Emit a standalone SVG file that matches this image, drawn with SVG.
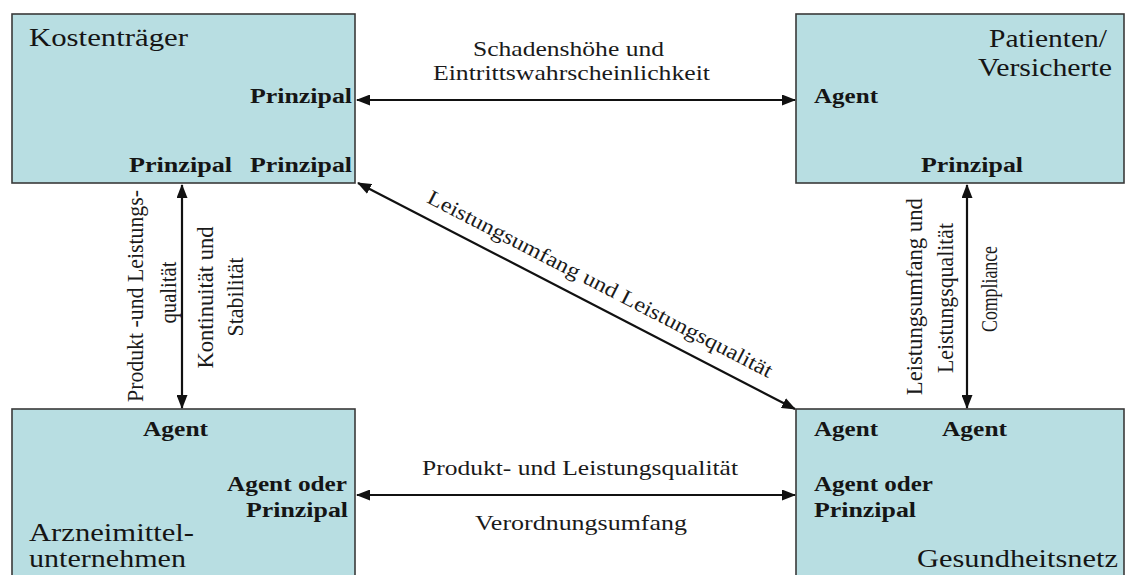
<svg xmlns="http://www.w3.org/2000/svg" width="1128" height="575" viewBox="0 0 1128 575">
  <style>
    .box { fill: #b8dee2; stroke: #3a3a3a; stroke-width: 1.6; }
    .title { font-family: "Liberation Serif", "Times New Roman", serif; font-size: 24.5px; fill: #151515; }
    .role { font-family: "Liberation Serif", "Times New Roman", serif; font-size: 20px; font-weight: bold; fill: #151515; }
    .lbl { font-family: "Liberation Serif", "Times New Roman", serif; font-size: 21px; fill: #1a1a1a; }
    .vlbl { font-family: "Liberation Serif", "Times New Roman", serif; font-size: 19.5px; fill: #1a1a1a; }
    .conn { stroke: #111; stroke-width: 2.2; fill: none; marker-start: url(#arrow); marker-end: url(#arrow); }
  </style>
  <defs>
    <marker id="arrow" markerUnits="userSpaceOnUse" markerWidth="14" markerHeight="11" refX="13" refY="5.5" orient="auto-start-reverse">
      <path d="M0,0 L14,5.5 L0,11 Z" fill="#111"/>
    </marker>
  </defs>
  <rect width="1128" height="575" fill="#ffffff"/>

  <!-- Kostenträger -->
  <g id="kostentraeger">
    <rect class="box" x="12" y="14" width="343" height="169"/>
    <text class="title" x="29" y="46" textLength="159" lengthAdjust="spacingAndGlyphs">Kostenträger</text>
    <text class="role" x="250" y="103" textLength="102" lengthAdjust="spacingAndGlyphs">Prinzipal</text>
    <text class="role" x="129" y="172" textLength="103" lengthAdjust="spacingAndGlyphs">Prinzipal</text>
    <text class="role" x="250" y="172" textLength="102" lengthAdjust="spacingAndGlyphs">Prinzipal</text>
  </g>

  <!-- Patienten/Versicherte -->
  <g id="patienten">
    <rect class="box" x="796" y="14" width="328" height="169"/>
    <text class="title" x="989" y="47" textLength="118" lengthAdjust="spacingAndGlyphs">Patienten/</text>
    <text class="title" x="978" y="76" textLength="134" lengthAdjust="spacingAndGlyphs">Versicherte</text>
    <text class="role" x="814" y="103" textLength="64" lengthAdjust="spacingAndGlyphs">Agent</text>
    <text class="role" x="921" y="172" textLength="102" lengthAdjust="spacingAndGlyphs">Prinzipal</text>
  </g>

  <!-- Arzneimittelunternehmen -->
  <g id="arzneimittel">
    <rect class="box" x="12" y="409" width="343" height="180"/>
    <text class="role" x="143" y="436" textLength="65" lengthAdjust="spacingAndGlyphs">Agent</text>
    <text class="role" x="227" y="491" textLength="120" lengthAdjust="spacingAndGlyphs">Agent oder</text>
    <text class="role" x="246" y="517" textLength="102" lengthAdjust="spacingAndGlyphs">Prinzipal</text>
    <text class="title" x="29" y="541" textLength="165" lengthAdjust="spacingAndGlyphs">Arzneimittel-</text>
    <text class="title" x="29" y="567" textLength="157" lengthAdjust="spacingAndGlyphs">unternehmen</text>
  </g>

  <!-- Gesundheitsnetz -->
  <g id="gesundheitsnetz">
    <rect class="box" x="796" y="409" width="328" height="180"/>
    <text class="role" x="814" y="436" textLength="64" lengthAdjust="spacingAndGlyphs">Agent</text>
    <text class="role" x="942" y="436" textLength="65" lengthAdjust="spacingAndGlyphs">Agent</text>
    <text class="role" x="814" y="491" textLength="119" lengthAdjust="spacingAndGlyphs">Agent oder</text>
    <text class="role" x="814" y="517" textLength="102" lengthAdjust="spacingAndGlyphs">Prinzipal</text>
    <text class="title" x="917" y="567" textLength="201" lengthAdjust="spacingAndGlyphs">Gesundheitsnetz</text>
  </g>

  <!-- Connectors -->
  <g id="connectors">
    <line class="conn" x1="357" y1="100" x2="795" y2="100"/>
    <line class="conn" x1="357" y1="495" x2="795" y2="495"/>
    <line class="conn" x1="182" y1="185" x2="182" y2="408"/>
    <line class="conn" x1="967" y1="185" x2="967" y2="408"/>
    <line class="conn" x1="358" y1="183" x2="795" y2="409"/>

    <text class="lbl" x="473" y="56" textLength="191" lengthAdjust="spacingAndGlyphs">Schadenshöhe und</text>
    <text class="lbl" x="433" y="80" textLength="277" lengthAdjust="spacingAndGlyphs">Eintrittswahrscheinlichkeit</text>

    <text class="lbl" x="422" y="475" textLength="316" lengthAdjust="spacingAndGlyphs">Produkt- und Leistungsqualität</text>
    <text class="lbl" x="475" y="530" textLength="212" lengthAdjust="spacingAndGlyphs">Verordnungsumfang</text>

    <text class="vlbl" text-anchor="middle" transform="translate(143,296) rotate(-90) scale(1,1.15)" textLength="212" lengthAdjust="spacingAndGlyphs">Produkt -und Leistungs-</text>
    <text class="vlbl" text-anchor="middle" transform="translate(176,292.5) rotate(-90) scale(1,1.15)" textLength="62" lengthAdjust="spacingAndGlyphs">qualität</text>
    <text class="vlbl" text-anchor="middle" transform="translate(212.5,297.5) rotate(-90) scale(1,1.15)" textLength="142" lengthAdjust="spacingAndGlyphs">Kontinuität und</text>
    <text class="vlbl" text-anchor="middle" transform="translate(243,297) rotate(-90) scale(1,1.15)" textLength="79" lengthAdjust="spacingAndGlyphs">Stabilität</text>

    <text class="vlbl" text-anchor="middle" transform="translate(921.5,296.7) rotate(-90) scale(1,1.15)" textLength="197" lengthAdjust="spacingAndGlyphs">Leistungsumfang und</text>
    <text class="vlbl" text-anchor="middle" transform="translate(953,298) rotate(-90) scale(1,1.15)" textLength="150" lengthAdjust="spacingAndGlyphs">Leistungsqualität</text>
    <text class="vlbl" text-anchor="middle" transform="translate(996.5,289) rotate(-90) scale(1,1.15)" textLength="86" lengthAdjust="spacingAndGlyphs">Compliance</text>

    <text class="lbl" text-anchor="middle" transform="translate(597,290) rotate(27.2)" textLength="385" lengthAdjust="spacingAndGlyphs">Leistungsumfang und Leistungsqualität</text>
  </g>
</svg>
